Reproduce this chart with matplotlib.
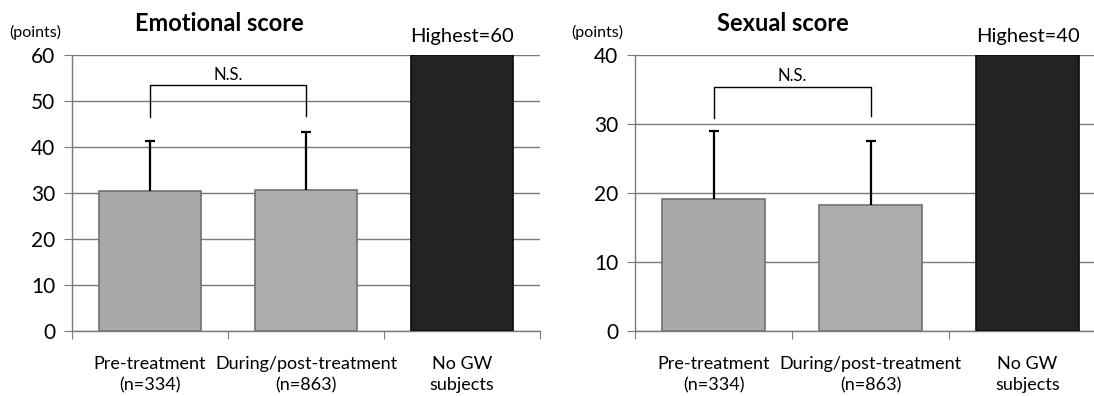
import numpy as np
import matplotlib
matplotlib.use("Agg")
import matplotlib.pyplot as plt

plt.rcParams['font.family'] = ['Lato', 'DejaVu Sans']

categories = ['Pre-treatment\n(n=334)', 'During/post-treatment\n(n=863)', 'No GW\nsubjects']

emo_mean = [30.4, 30.7, 60]
emo_sd = [10.9, 12.6, 0]
sex_mean = [19.2, 18.2, 40]
sex_sd = [9.8, 9.4, 0]

panels = [
    dict(title='Emotional score', mean=emo_mean, sd=emo_sd, top=60, highest='Highest=60',
         bracket=53.4, legs=(46.5, 46.8), ns=55.6),
    dict(title='Sexual score', mean=sex_mean, sd=sex_sd, top=40, highest='Highest=40',
         bracket=35.4, legs=(30.8, 31.1), ns=37.0),
]

fig = plt.figure(figsize=(10.94, 3.96), dpi=100)
ax_pos = [[72/1094, 1-331/396, 468/1094, 276/396],
          [635/1094, 1-331/396, 471/1094, 276/396]]

bar_colors = ['#a9a9a9', '#adadad', '#232323']
edge_colors = ['#707070', '#707070', '#0a0a0a']

for p, pos in zip(panels, ax_pos):
    ax = fig.add_axes(pos)
    x = np.arange(len(categories))
    mean = np.array(p['mean'])
    sd = np.array(p['sd'])
    ax.bar(x, mean, width=0.66, color=bar_colors, edgecolor=edge_colors,
           linewidth=1.2, zorder=3)
    # upper error bars only (cap at the top end)
    ax.vlines(x[:2], mean[:2], mean[:2] + sd[:2], color='black', lw=1.6, zorder=4)
    ax.plot(x[:2], mean[:2] + sd[:2], ls='none', marker='_', ms=7, mew=1.6,
            color='black', zorder=4)
    # N.S. bracket
    ax.plot([0, 0, 1, 1], [p['legs'][0], p['bracket'], p['bracket'], p['legs'][1]],
            color='black', lw=1.0, zorder=4)
    ax.text(0.5, p['ns'], 'N.S.', ha='center', va='center', fontsize=12)

    ax.set_xlim(-0.5, 2.5)
    ax.set_ylim(0, p['top'])
    ax.set_yticks(np.arange(0, p['top'] + 1, 10))
    ax.grid(axis='y', color='#7a7a7a', lw=1.0, zorder=0)
    ax.set_xticks([-0.5, 0.5, 1.5, 2.5])
    ax.set_xticklabels([])
    ax.set_xticks(x, minor=True)
    ax.set_xticklabels(categories, minor=True, fontsize=13, linespacing=1.4)
    ax.tick_params(axis='x', which='major', direction='out', length=6, color='#7a7a7a')
    ax.tick_params(axis='x', which='minor', length=0, pad=18)
    ax.tick_params(axis='y', direction='out', length=6, color='#7a7a7a',
                   labelsize=15, pad=6)
    for s in ['top', 'right']:
        ax.spines[s].set_visible(False)
    for s in ['left', 'bottom']:
        ax.spines[s].set_color('#7a7a7a')
        ax.spines[s].set_linewidth(1.0)

    ax.text(0.315, 1.115, p['title'], transform=ax.transAxes, ha='center', va='center',
            fontsize=17, fontweight='bold')
    ax.text(-0.135, 1.08, '(points)', transform=ax.transAxes, ha='left', va='center',
            fontsize=11.5)
    ax.text(2, p['top'] * 1.068, p['highest'], ha='center', va='center', fontsize=14.5)

fig.savefig('out.png', dpi=100)
